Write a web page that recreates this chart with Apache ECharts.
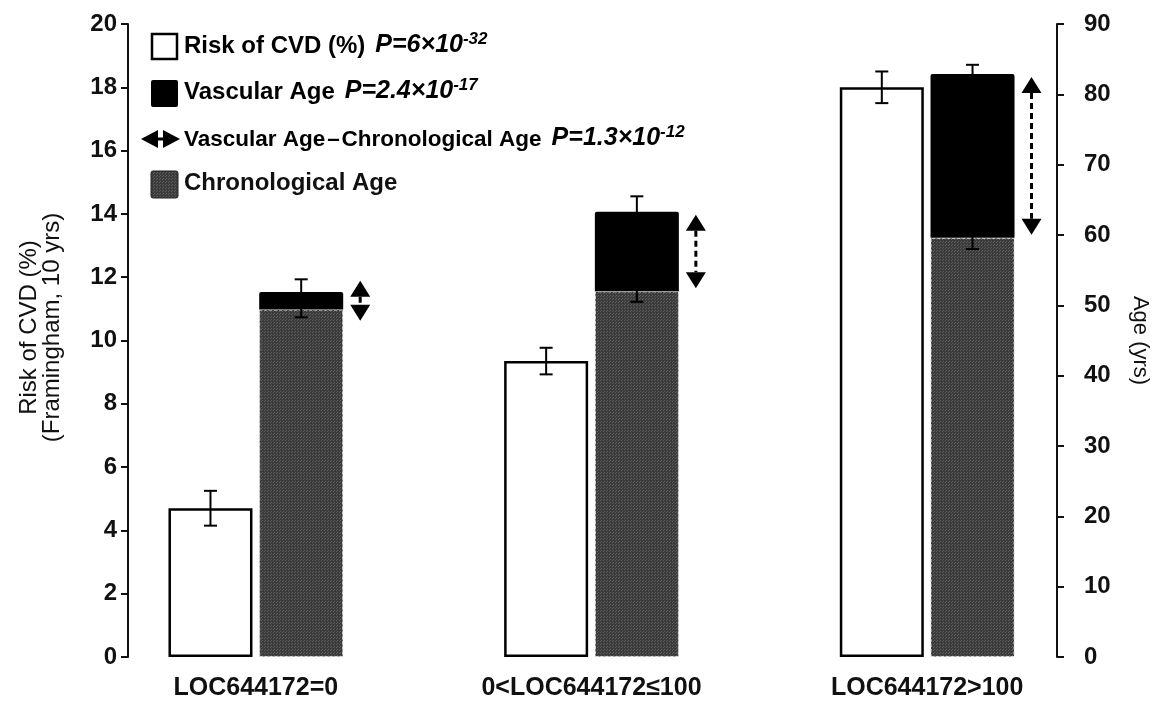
<!DOCTYPE html>
<html>
<head>
<meta charset="utf-8">
<script src="https://cdn.jsdelivr.net/npm/echarts@6/dist/echarts.min.js"></script>
<style>
  html, body { margin: 0; padding: 0; background: #ffffff; }
  #chart { width: 1168px; height: 704px; }
</style>
</head>
<body>
<div id="chart"></div>
<script>
// Groups of LOC644172 expression
const categories = ['LOC644172=0', '0<LOC644172\u2264100', 'LOC644172>100'];

// Framingham 10-year risk of CVD (%), mean and error
const riskCVD = [4.7, 9.35, 18.0];
const riskErr = [0.55, 0.42, 0.5];

// Chronological age (yrs), mean and error
const chronoAge = [49.4, 52.0, 59.6];
const chronoErr = [1.1, 1.5, 1.6];

// Vascular age (yrs), mean and error
const vascAge = [51.9, 63.3, 82.9];
const vascErr = [1.8, 2.2, 1.3];

// Axis ticks
const leftTicks = { min: 0, max: 20, interval: 2 };
const rightTicks = { min: 0, max: 90, interval: 10 };

const FONT = '"Liberation Sans", Arial, sans-serif';
const BAR_W = 84;
const BAR_GAP = 0.08;
const SLOT = BAR_W * (1 + BAR_GAP) / 2;

// fine dotted dark-grey texture for chronological age
function makePattern() {
  const c = document.createElement('canvas');
  c.width = 3; c.height = 3;
  const g = c.getContext('2d');
  g.fillStyle = '#3b3b3b';
  g.fillRect(0, 0, 3, 3);
  g.fillStyle = '#5e5e5e';
  g.fillRect(1, 1, 1, 1);
  g.fillRect(0, 2, 1, 1);
  return { image: c, repeat: 'repeat' };
}
const pattern = makePattern();

// excess of vascular age over chronological age (stacked on top)
const vascExcess = vascAge.map((v, i) => +(v - chronoAge[i]).toFixed(2));

function errorBar(sign) {
  return function (params, api) {
    const i = api.value(0), m = api.value(1), e = api.value(2);
    const hi = api.coord([i, m + e]);
    const lo = api.coord([i, m - e]);
    const x = hi[0] + sign * SLOT;
    const cap = 6.5;
    const st = { stroke: '#000', lineWidth: 2 };
    return {
      type: 'group',
      children: [
        { type: 'line', shape: { x1: x, y1: hi[1], x2: x, y2: lo[1] }, style: st },
        { type: 'line', shape: { x1: x - cap, y1: hi[1], x2: x + cap, y2: hi[1] }, style: st },
        { type: 'line', shape: { x1: x - cap, y1: lo[1], x2: x + cap, y2: lo[1] }, style: st }
      ]
    };
  };
}

function arrowItem(params, api) {
  const i = api.value(0);
  const a = api.coord([i, api.value(1)]);
  const b = api.coord([i, api.value(2)]);
  const x = a[0] + SLOT + BAR_W / 2 + 17;
  const mid = (a[1] + b[1]) / 2;
  const len = Math.max(Math.abs(a[1] - b[1]) - 6, 40);
  const top = mid - len / 2, bot = mid + len / 2;
  const hw = 10, hh = 16;
  return {
    type: 'group',
    children: [
      { type: 'line', shape: { x1: x, y1: top + hh, x2: x, y2: bot - hh },
        style: { stroke: '#000', lineWidth: 3, lineDash: [6, 4] } },
      { type: 'polygon', shape: { points: [[x, top], [x - hw, top + hh], [x + hw, top + hh]] },
        style: { fill: '#000' } },
      { type: 'polygon', shape: { points: [[x, bot], [x - hw, bot - hh], [x + hw, bot - hh]] },
        style: { fill: '#000' } }
    ]
  };
}

const chart = echarts.init(document.getElementById('chart'), null, { renderer: 'canvas' });

function makeRich(size) {
  return {
    t: { fontFamily: FONT, fontSize: size, fontWeight: 'bold', color: '#111', verticalAlign: 'bottom', lineHeight: 30 },
    p: { fontFamily: FONT, fontSize: 25, fontWeight: 'bold', fontStyle: 'italic', color: '#111',
         verticalAlign: 'bottom', lineHeight: 30, padding: [0, 0, 0, 10] },
    s: { fontFamily: FONT, fontSize: 17, fontWeight: 'bold', fontStyle: 'italic', color: '#111',
         verticalAlign: 'bottom', lineHeight: 30, padding: [0, 0, 10, 0] }
  };
}
function legendLabel(x, y, name, p, sup, size) {
  return {
    type: 'text', left: x, top: y - 16, z: 10,
    style: { text: '{t|' + name + '}{p|' + p + '}{s|' + sup + '}', rich: makeRich(size) }
  };
}

const option = {
  backgroundColor: '#ffffff',
  animation: false,
  grid: { left: 88, right: 73, top: 24, bottom: 47 },
  xAxis: {
    type: 'category',
    data: categories,
    axisLine: { show: false },
    axisTick: { show: false },
    axisLabel: { color: '#111', fontFamily: FONT, fontSize: 25, fontWeight: 'bold', margin: 19 }
  },
  yAxis: [
    {
      type: 'value', position: 'left', offset: -40,
      min: leftTicks.min, max: leftTicks.max, interval: leftTicks.interval,
      name: 'Risk of CVD (%)\n(Framingham, 10 yrs)',
      nameLocation: 'middle', nameGap: 64, nameRotate: 90,
      nameTextStyle: { color: '#111', fontFamily: FONT, fontSize: 24, lineHeight: 23, padding: [0, 0, 0, 26] },
      axisLine: { show: true, lineStyle: { color: '#111', width: 2 } },
      axisTick: { show: true, length: 7, lineStyle: { color: '#111', width: 2 } },
      axisLabel: { color: '#111', fontFamily: FONT, fontSize: 24, fontWeight: 'bold', margin: 11 },
      splitLine: { show: false }
    },
    {
      type: 'value', position: 'right', offset: -38,
      min: rightTicks.min, max: rightTicks.max, interval: rightTicks.interval,
      name: 'Age (yrs)',
      nameLocation: 'middle', nameGap: 72, nameRotate: -90,
      nameTextStyle: { color: '#111', fontFamily: FONT, fontSize: 22 },
      axisLine: { show: true, lineStyle: { color: '#111', width: 2 } },
      axisTick: { show: true, length: 7, lineStyle: { color: '#111', width: 2 } },
      axisLabel: { color: '#111', fontFamily: FONT, fontSize: 24, fontWeight: 'bold', margin: 27 },
      splitLine: { show: false }
    }
  ],
  series: [
    {
      name: 'Risk of CVD (%)', type: 'bar', yAxisIndex: 0,
      barWidth: BAR_W, barGap: (BAR_GAP * 100) + '%',
      data: riskCVD,
      itemStyle: { color: '#ffffff', borderColor: '#000', borderWidth: 2.5 }
    },
    {
      name: 'Chronological Age', type: 'bar', yAxisIndex: 1, stack: 'age',
      barWidth: BAR_W,
      data: chronoAge,
      itemStyle: { color: pattern, borderColor: '#d8d8d8', borderWidth: 1, borderType: [3, 2] }
    },
    {
      name: 'Vascular Age', type: 'bar', yAxisIndex: 1, stack: 'age',
      barWidth: BAR_W,
      data: vascExcess,
      itemStyle: { color: '#000', borderRadius: [2, 2, 0, 0] }
    },
    {
      type: 'custom', yAxisIndex: 0, z: 5,
      renderItem: errorBar(-1),
      data: riskCVD.map((v, i) => [i, v, riskErr[i]])
    },
    {
      type: 'custom', yAxisIndex: 1, z: 5,
      renderItem: errorBar(1),
      data: vascAge.map((v, i) => [i, v, vascErr[i]])
    },
    {
      type: 'custom', yAxisIndex: 1, z: 5,
      renderItem: errorBar(1),
      data: chronoAge.map((v, i) => [i, v, chronoErr[i]])
    },
    {
      type: 'custom', yAxisIndex: 1, z: 5,
      renderItem: arrowItem,
      data: chronoAge.map((v, i) => [i, v, vascAge[i]])
    }
  ],
  graphic: [
    // legend swatches
    { type: 'rect', shape: { x: 152, y: 34, width: 25, height: 25 },
      style: { fill: '#fff', stroke: '#000', lineWidth: 2.5 }, z: 10 },
    { type: 'rect', shape: { x: 151, y: 80, width: 27, height: 27, r: 2 },
      style: { fill: '#000' }, z: 10 },
    { type: 'polygon', shape: { points: [[141, 139], [158, 130], [158, 148]] }, style: { fill: '#000' }, z: 10 },
    { type: 'polygon', shape: { points: [[180, 139], [163, 130], [163, 148]] }, style: { fill: '#000' }, z: 10 },
    { type: 'line', shape: { x1: 155, y1: 139, x2: 166, y2: 139 }, style: { stroke: '#000', lineWidth: 3 }, z: 10 },
    { type: 'rect', shape: { x: 151, y: 171, width: 27, height: 27, r: 2 },
      style: { fill: pattern, stroke: '#222', lineWidth: 1 }, z: 10 },
    // legend labels
    legendLabel(184, 47, 'Risk of CVD (%)', 'P=6\u00d710', '-32', 24),
    legendLabel(184, 93, 'Vascular Age', 'P=2.4\u00d710', '-17', 24),
    legendLabel(184, 140, 'Vascular Age\u200a\u2013\u200aChronological Age', 'P=1.3\u00d710', '-12', 22.5),
    { type: 'text', left: 184, top: 171, z: 10,
      style: { text: 'Chronological Age', fontFamily: FONT, fontSize: 24, fontWeight: 'bold', fill: '#111' } }
  ]
};

chart.setOption(option);
</script>
</body>
</html>
